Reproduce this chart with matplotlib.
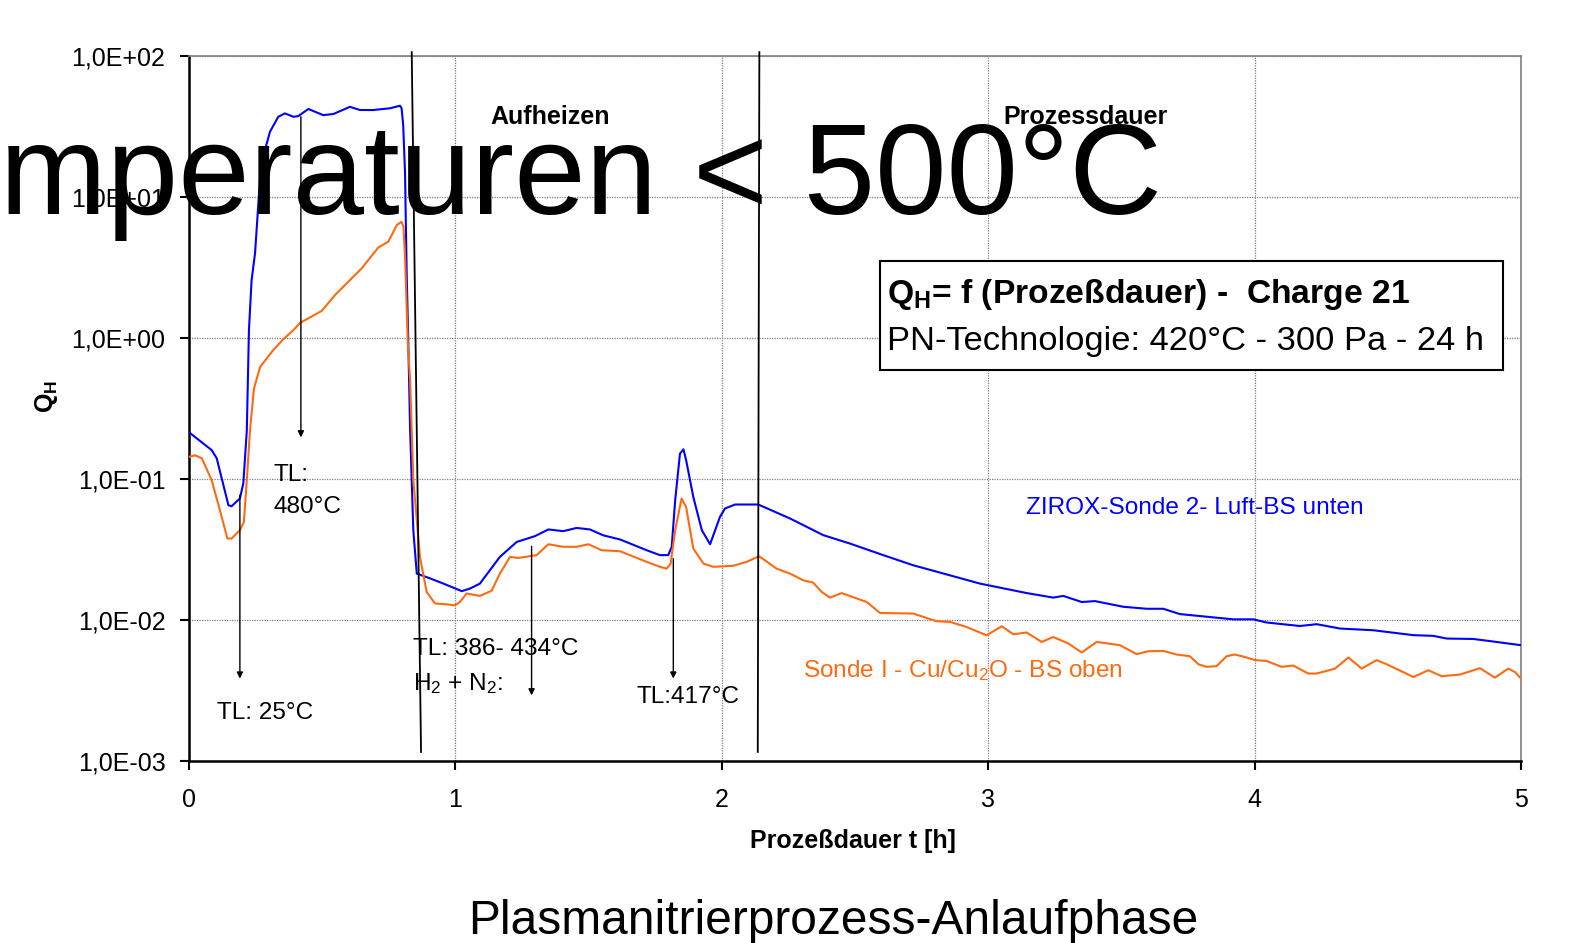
import matplotlib
matplotlib.use("Agg")
import matplotlib.pyplot as plt
from matplotlib.patches import Rectangle
from matplotlib.ticker import FuncFormatter, NullLocator

plt.rcParams['font.family'] = ['Liberation Sans', 'DejaVu Sans']
plt.rcParams['mathtext.fontset'] = 'custom'
plt.rcParams['mathtext.rm'] = 'Liberation Sans'
plt.rcParams['mathtext.it'] = 'Liberation Sans:italic'
plt.rcParams['mathtext.bf'] = 'Liberation Sans:bold'

# ZIROX-Sonde 2 (blue)
zirox_t = [0.0, 0.085, 0.104, 0.148, 0.160, 0.191, 0.204, 0.217, 0.225, 0.235,
           0.248, 0.267, 0.285, 0.304, 0.335, 0.360, 0.392, 0.410, 0.448, 0.504,
           0.542, 0.604, 0.642, 0.692, 0.755, 0.792, 0.798, 0.804, 0.811, 0.817,
           0.823, 0.830, 0.842, 0.855, 0.905, 0.955, 1.024, 1.055, 1.092, 1.167,
           1.230, 1.299, 1.349, 1.405, 1.455, 1.505, 1.555, 1.618, 1.718, 1.768,
           1.799, 1.812, 1.825, 1.843, 1.856, 1.866, 1.893, 1.925, 1.956, 1.993,
           2.012, 2.050, 2.137, 2.256, 2.381, 2.481, 2.606, 2.719, 2.857, 2.969,
           3.145, 3.244, 3.282, 3.351, 3.401, 3.507, 3.595, 3.657, 3.720, 3.807,
           3.920, 3.995, 4.045, 4.170, 4.233, 4.321, 4.446, 4.596, 4.671, 4.721,
           4.821, 4.896, 5.0]
zirox_q = [0.214, 0.160, 0.140, 0.0650, 0.0640, 0.0726, 0.0933, 0.221, 1.135, 2.565,
           3.99, 13.87, 21.4, 28.9, 36.9, 39.0, 36.9, 37.3, 41.9, 37.9,
           38.6, 43.4, 41.2, 41.2, 42.4, 44.2, 42.4, 32.3, 14.7, 2.877,
           0.964, 0.222, 0.0433, 0.0213, 0.0197, 0.0181, 0.0160, 0.0167, 0.0181, 0.0280,
           0.0357, 0.0393, 0.0438, 0.0426, 0.0449, 0.0438, 0.0398, 0.0372, 0.0312, 0.0288,
           0.0288, 0.0330, 0.0706, 0.151, 0.162, 0.136, 0.0745, 0.0433, 0.0344, 0.0537,
           0.0617, 0.0658, 0.0658, 0.0524, 0.0399, 0.0348, 0.0288, 0.0244, 0.0207, 0.0181,
           0.0155, 0.0144, 0.0148, 0.0134, 0.0136, 0.0124, 0.0120, 0.0120, 0.0110, 0.0106,
           0.0101, 0.0101, 0.00959, 0.00906, 0.00933, 0.00869, 0.00845, 0.00780, 0.00771, 0.00738,
           0.00733, 0.00703, 0.00662]

# Sonde I - Cu/Cu2O (orange)
sonde_t = [0.0, 0.023, 0.048, 0.085, 0.116, 0.144, 0.160, 0.191, 0.206, 0.217,
           0.229, 0.244, 0.267, 0.316, 0.354, 0.392, 0.417, 0.498, 0.548, 0.648,
           0.711, 0.748, 0.780, 0.798, 0.805, 0.811, 0.817, 0.821, 0.830, 0.842,
           0.867, 0.892, 0.923, 0.967, 0.998, 1.017, 1.042, 1.092, 1.136, 1.167,
           1.205, 1.236, 1.305, 1.349, 1.405, 1.455, 1.499, 1.549, 1.618, 1.718,
           1.768, 1.793, 1.808, 1.825, 1.849, 1.866, 1.893, 1.931, 1.968, 2.043,
           2.093, 2.140, 2.206, 2.256, 2.306, 2.343, 2.375, 2.406, 2.450, 2.544,
           2.594, 2.719, 2.806, 2.857, 2.919, 2.994, 3.051, 3.094, 3.144, 3.201,
           3.244, 3.301, 3.351, 3.407, 3.495, 3.557, 3.601, 3.657, 3.707, 3.757,
           3.789, 3.820, 3.857, 3.895, 3.926, 3.970, 4.001, 4.045, 4.101, 4.145,
           4.201, 4.233, 4.302, 4.352, 4.402, 4.458, 4.496, 4.596, 4.652, 4.702,
           4.771, 4.846, 4.902, 4.952, 4.977, 5.0]
sonde_q = [0.143, 0.147, 0.140, 0.0980, 0.0600, 0.0378, 0.0378, 0.0433, 0.0495, 0.0980,
           0.221, 0.438, 0.622, 0.818, 0.977, 1.135, 1.276, 1.552, 2.009, 3.105,
           4.375, 4.797, 6.295, 6.653, 6.124, 3.750, 1.660, 0.964, 0.501, 0.0980,
           0.0280, 0.0158, 0.0131, 0.0129, 0.0127, 0.0134, 0.0154, 0.0148, 0.0161, 0.0213,
           0.0280, 0.0275, 0.0288, 0.0344, 0.0330, 0.0330, 0.0344, 0.0312, 0.0307, 0.0258,
           0.0238, 0.0231, 0.0251, 0.0433, 0.0726, 0.0632, 0.0321, 0.0251, 0.0238, 0.0242,
           0.0258, 0.0283, 0.0231, 0.0213, 0.0191, 0.0184, 0.0158, 0.0144, 0.0155, 0.0134,
           0.0112, 0.0111, 0.00979, 0.00968, 0.00891, 0.00778, 0.00902, 0.00791, 0.00815, 0.00698,
           0.00757, 0.00681, 0.00588, 0.00698, 0.00662, 0.00572, 0.00600, 0.00603, 0.00569, 0.00553,
           0.00485, 0.00465, 0.00470, 0.00553, 0.00569, 0.00542, 0.00519, 0.00512, 0.00465, 0.00475,
           0.00417, 0.00417, 0.00452, 0.00542, 0.00452, 0.00519, 0.00485, 0.00394, 0.00440, 0.00399,
           0.00410, 0.00455, 0.00390, 0.00452, 0.00428, 0.00384]

x_ticks = [0, 1, 2, 3, 4, 5]
y_ticks = [1e-3, 1e-2, 1e-1, 1e0, 1e1, 1e2]

BLUE = '#0000FF'
ORANGE = '#FF6A10'

W, H = 1577, 943
fig = plt.figure(figsize=(W / 100, H / 100), dpi=100)
ax = fig.add_axes([189 / W, 1 - 761 / H, (1521 - 189) / W, (761 - 55.7) / H])

ax.plot(zirox_t, zirox_q, color=BLUE, lw=1.5, zorder=3)
ax.plot(sonde_t, sonde_q, color=ORANGE, lw=1.5, zorder=3)

ax.set_yscale('log')
ax.set_xlim(0, 5)
ax.set_ylim(1e-3, 1e2)
ax.set_xticks(x_ticks)
ax.set_yticks(y_ticks)
ax.yaxis.set_minor_locator(NullLocator())
ax.yaxis.set_major_formatter(FuncFormatter(lambda v, p: f"{v:.1E}".replace('.', ',')))
ax.xaxis.set_major_formatter(FuncFormatter(lambda v, p: f"{v:g}"))
ax.grid(True, color='#808080', lw=0.9, linestyle=(0, (1, 1)))
ax.tick_params(axis='both', direction='out', length=6.5, width=1.5, labelsize=18)
ax.tick_params(axis='x', pad=13)
ax.tick_params(axis='y', pad=10.5)
for s in ['left', 'bottom']:
    ax.spines[s].set_linewidth(1.8)
    ax.spines[s].set_color('black')
for s in ['top', 'right']:
    ax.spines[s].set_linewidth(1.2)
    ax.spines[s].set_color('#808080')

# phase separators
ax.plot([0.836, 0.871], [106, 0.00116], color='black', lw=1.3, clip_on=False, zorder=4)
ax.plot([2.141, 2.135], [106, 0.00116], color='black', lw=1.3, clip_on=False, zorder=4)

# arrows
arrows = [(0.191, 0.0766, 0.00384), (0.42, 36.9, 0.197),
          (1.286, 0.0333, 0.00292), (1.818, 0.0272, 0.00384)]
for xa, y0, y1 in arrows:
    ax.annotate('', xy=(xa, y1), xytext=(xa, y0),
                arrowprops=dict(arrowstyle='-|>', color='black', lw=1.0,
                                mutation_scale=9, shrinkA=0, shrinkB=0), zorder=4)

fs = 17.6
ax.text(0.104, 0.00218, 'TL: 25°C', fontsize=fs, ha='left', va='center')
ax.text(0.316, 0.106, 'TL:', fontsize=fs, ha='left', va='center')
ax.text(0.316, 0.0632, '480°C', fontsize=fs, ha='left', va='center')
ax.text(0.840, 0.00627, 'TL: 386- 434°C', fontsize=fs, ha='left', va='center')
ax.text(0.840, 0.00354, r'H$_2$ + N$_2$:', fontsize=fs, ha='left', va='center')
ax.text(1.681, 0.00284, 'TL:417°C', fontsize=fs, ha='left', va='center')
ax.text(3.142, 0.0619, 'ZIROX-Sonde 2- Luft-BS unten', fontsize=fs, color=BLUE,
        ha='left', va='center')
ax.text(2.306, 0.00440, r'Sonde I - Cu/Cu$_2$O - BS oben', fontsize=fs, color=ORANGE,
        ha='left', va='center')
ax.text(1.355, 36.7, 'Aufheizen', fontsize=18, weight='bold', ha='center', va='center')
ax.text(3.367, 36.7, 'Prozessdauer', fontsize=18, weight='bold', ha='center', va='center')

# info box
box = Rectangle((880 / W, 1 - 370 / H), 623 / W, 109 / H, transform=fig.transFigure,
                facecolor='white', edgecolor='black', lw=1.5, zorder=5)
fig.patches.append(box)
fig.text(887 / W, 1 - 294 / H, r'Q$_\mathbf{H}$= f (Prozeßdauer) -  Charge 21',
         fontsize=24.2, weight='bold', ha='left', va='center', zorder=6)
fig.text(887 / W, 1 - 342 / H, 'PN-Technologie: 420°C - 300 Pa - 24 h',
         fontsize=24.8, ha='left', va='center', zorder=6)

# axis labels
fig.text(853 / W, 1 - 841 / H, 'Prozeßdauer t [h]', fontsize=18, weight='bold',
         ha='center', va='center')
fig.text(47 / W, 1 - 396 / H, r'Q$_\mathbf{H}$', fontsize=18, weight='bold',
         rotation=90, ha='center', va='center')

# slide texts
fig.text(1162 / W, 1 - 214 / H, 'Temperaturen < 500°C', fontsize=92.5,
         ha='right', va='baseline', zorder=7)
fig.text(833 / W, 1 - 921 / H, 'Plasmanitrierprozess-Anlaufphase', fontsize=34.5,
         ha='center', va='center')

fig.savefig('out.png', dpi=100)
